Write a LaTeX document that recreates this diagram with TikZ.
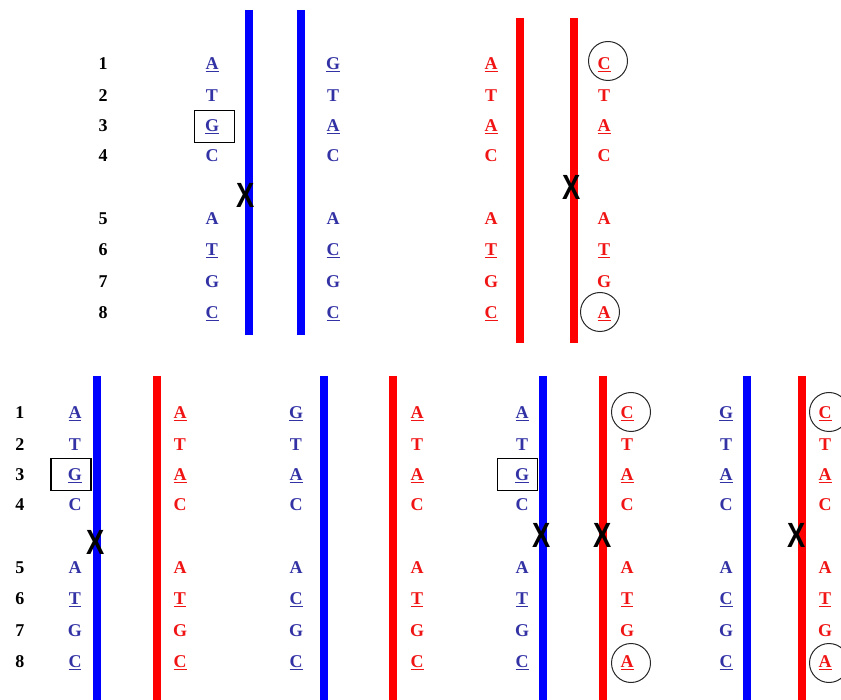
\documentclass[tikz,border=0pt]{standalone}
\usepackage{fontspec}
\setmainfont{Liberation Serif}
\newfontfamily\xfont{Liberation Sans}
\definecolor{lineblue}{RGB}{0,0,255}
\definecolor{linered}{RGB}{255,0,0}
\definecolor{letblue}{RGB}{50,50,165}
\definecolor{letred}{RGB}{240,20,20}
\definecolor{ringgray}{RGB}{40,40,40}
\newcommand{\baseul}[1]{\setbox0\hbox{#1}\rlap{\raisebox{-2.8pt}{\rule{\wd0}{1.4pt}}}\box0}
\newcommand{\xglyph}{\scalebox{0.78}[1]{\bfseries X}}
\tikzset{
  letter/.style={anchor=base, inner sep=0pt, font=\fontsize{18}{18}\selectfont\bfseries},
  num/.style={anchor=base, inner sep=0pt, font=\fontsize{18}{18}\selectfont\bfseries, text=black},
  bstrand/.style={draw=lineblue, line width=8pt},
  rstrand/.style={draw=linered, line width=8pt},
  xmark/.style={inner sep=0pt, font=\xfont\fontsize{35}{35}\selectfont, text=black},
  boxmark/.style={draw=black, line width=1.3pt, minimum width=40pt, minimum height=32pt, inner sep=0pt},
  ringmark/.style={draw=ringgray, line width=1pt, circle, minimum size=39pt, inner sep=0pt}
}
\newcommand{\dnacolumn}[5]{%
  \foreach \l/\u [count=\i] in #5 {
    \pgfmathsetmacro\yy{{63,95,125,155,218,249,281,312}[\i-1]+#3+6.5}
    \node[letter, text=#4] (#1-\i) at (#2,\yy) {\ifnum\u=1 \baseul{\l}\else\l\fi};
  }}
\newcommand{\numcolumn}[3]{%
  \foreach \i in {1,...,8} {
    \pgfmathsetmacro\yy{{63,95,125,155,218,249,281,312}[\i-1]+#3+6.5}
    \node[num] (#1-\i) at (#2,\yy) {\i};
  }}
\def\seqBa{A/1,T/0,G/1,C/0,A/0,T/1,G/0,C/1}
\def\seqBb{G/1,T/0,A/1,C/0,A/0,C/1,G/0,C/1}
\def\seqRa{A/1,T/0,A/1,C/0,A/0,T/1,G/0,C/1}
\def\seqRb{C/1,T/0,A/1,C/0,A/0,T/1,G/0,A/1}
\begin{document}
\begin{tikzpicture}[x=1pt,y=-1pt]
\useasboundingbox (0,0) rectangle (841,700);
% ---------- top row ----------
\numcolumn{tn}{103}{0}
\draw[bstrand] (249,10) coordinate (tb1t) -- (249,335) coordinate (tb1b);
\draw[bstrand] (301,10) coordinate (tb2t) -- (301,335) coordinate (tb2b);
\draw[rstrand] (520,18) coordinate (tr1t) -- (520,343) coordinate (tr1b);
\draw[rstrand] (574,18) coordinate (tr2t) -- (574,343) coordinate (tr2b);
\dnacolumn{tbl}{212}{0}{letblue}{\seqBa}
\dnacolumn{tbr}{333}{0}{letblue}{\seqBb}
\dnacolumn{trl}{491}{0}{letred}{\seqRa}
\dnacolumn{trr}{604}{0}{letred}{\seqRb}
\node[boxmark] (tbox) at (214.5,126.5) {};
\node[ringmark] (tring1) at (608,61) {};
\node[ringmark] (tring2) at (600,312) {};
\node[xmark] (tx1) at (246,195) {\xglyph};
\node[xmark] (tx2) at (572,187) {\xglyph};
% ---------- bottom row ----------
\numcolumn{bn}{20}{349}
% group 1
\draw[bstrand] (97,376) coordinate (g1bt) -- (97,700) coordinate (g1bb);
\draw[rstrand] (157,376) coordinate (g1rt) -- (157,700) coordinate (g1rb);
\dnacolumn{g1b}{75}{349}{letblue}{\seqBa}
\dnacolumn{g1r}{180}{349}{letred}{\seqRa}
\node[boxmark] (g1box) at (71,474.5) {};
\node[xmark] (g1x) at (96,542) {\xglyph};
% group 2
\draw[bstrand] (324,376) coordinate (g2bt) -- (324,700) coordinate (g2bb);
\draw[rstrand] (393,376) coordinate (g2rt) -- (393,700) coordinate (g2rb);
\dnacolumn{g2b}{296}{349}{letblue}{\seqBb}
\dnacolumn{g2r}{417}{349}{letred}{\seqRa}
% group 3
\draw[bstrand] (543,376) coordinate (g3bt) -- (543,700) coordinate (g3bb);
\draw[rstrand] (603,376) coordinate (g3rt) -- (603,700) coordinate (g3rb);
\dnacolumn{g3b}{522}{349}{letblue}{\seqBa}
\dnacolumn{g3r}{627}{349}{letred}{\seqRb}
\node[boxmark] (g3box) at (517.5,474.5) {};
\node[ringmark] (g3ring1) at (631,412) {};
\node[ringmark] (g3ring2) at (631,663) {};
\node[xmark] (g3x1) at (542,535) {\xglyph};
\node[xmark] (g3x2) at (603,535) {\xglyph};
% group 4
\draw[bstrand] (747,376) coordinate (g4bt) -- (747,700) coordinate (g4bb);
\draw[rstrand] (802,376) coordinate (g4rt) -- (802,700) coordinate (g4rb);
\dnacolumn{g4b}{726}{349}{letblue}{\seqBb}
\dnacolumn{g4r}{825}{349}{letred}{\seqRb}
\node[ringmark] (g4ring1) at (829,412) {};
\node[ringmark] (g4ring2) at (829,663) {};
\node[xmark] (g4x) at (797,535) {\xglyph};
\end{tikzpicture}
\end{document}
